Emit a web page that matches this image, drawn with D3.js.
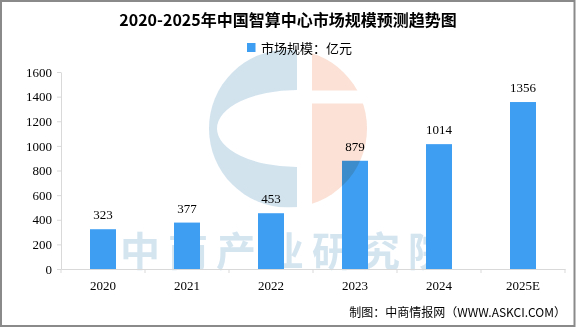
<!DOCTYPE html>
<html><head><meta charset="utf-8">
<script src="https://cdn.jsdelivr.net/npm/d3@7/dist/d3.min.js"></script>
<style>body{margin:0;background:#fff}svg{display:block}</style>
</head><body><svg id="c" width="576" height="327"></svg>
<script>
const categories = ["2020","2021","2022","2023","2024","2025E"];
const values = [323,377,453,879,1014,1356];
const yTicks = [0,200,400,600,800,1000,1200,1400,1600];
const title = "2020-2025年中国智算中心市场规模预测趋势图";
const legendLabel = "市场规模：亿元";
const source = "制图：中商情报网（WWW.ASKCI.COM）";
const watermark = "中商产业研究院";

const svg = d3.select("#c");
const W=576,H=327;
const font = "'Noto Sans CJK SC','DejaVu Sans',sans-serif";
const numFont = "'Liberation Serif','DejaVu Serif',serif";
svg.append("rect").attr("x",1).attr("y",1).attr("width",W-2.5).attr("height",H-2)
  .attr("fill","#fff").attr("stroke","#8a8a8a").attr("stroke-width",2);

const x = d3.scaleBand().domain(categories).range([61,565]);
const y = d3.scaleLinear().domain([0,1600]).range([269,72]);

// watermark text (behind bars)
svg.append("text").attr("x",288).attr("y",266).attr("text-anchor","middle")
  .attr("font-family",font).attr("font-weight","bold").attr("font-size",40).attr("letter-spacing",8)
  .attr("fill","#d5e5f0").text(watermark);

// axes
const ya = svg.append("g").attr("transform","translate(61,0)")
  .call(d3.axisLeft(y).tickValues(yTicks).tickFormat(d3.format("d")).tickSize(4).tickSizeOuter(0).tickPadding(5));
ya.select(".domain").attr("stroke","#d9d9d9");
ya.selectAll(".tick line").attr("stroke","#d9d9d9");
ya.selectAll("text").attr("font-family",numFont).attr("font-size",13).attr("fill","#000");

const xa = svg.append("g").attr("transform","translate(0,269)")
  .call(d3.axisBottom(x).tickSize(0).tickSizeOuter(0).tickPadding(12));
xa.select(".domain").attr("stroke","#d9d9d9");
xa.selectAll("text").attr("font-family",numFont).attr("font-size",13).attr("fill","#000");
const sepG = svg.append("g");
const bounds = categories.map(c=>x(c)).concat([x.range()[1]]);
bounds.forEach(b=>{
  sepG.append("line").attr("x1",b).attr("x2",b).attr("y1",269).attr("y2",273).attr("stroke","#d9d9d9");
});

// bars
const bw = 26;
svg.selectAll("rect.bar").data(values).enter().append("rect").attr("class","bar")
  .attr("x",(d,i)=>x(categories[i])+x.bandwidth()/2-bw/2)
  .attr("y",d=>y(d)).attr("width",bw).attr("height",d=>269-y(d))
  .attr("fill","#3d9ef2");

// logo watermark (on top, multiply)
const cx=288, cy=128.5, r=79;
const defs = svg.append("defs");
defs.append("clipPath").attr("id","rc").append("circle").attr("cx",cx).attr("cy",cy).attr("r",r);
const logo = svg.append("g").style("mix-blend-mode","multiply").attr("clip-path","url(#rc)");
const gapL = 297, gapR = 312;
logo.append("path").attr("fill-rule","evenodd").attr("fill","#d2e3ee")
  .attr("d",`M${cx-r},${cy-r} H${gapL} V${cy+r} H${cx-r} Z M${gapL},${cy-38.5} A80,38.5 0 0 0 ${gapL},${cy+38.5} Z`);
logo.append("rect").attr("x",gapR).attr("y",cy-r).attr("width",r).attr("height",(cy-38)-(cy-r)).attr("fill","#fbe1d6");
logo.append("rect").attr("x",gapR).attr("y",cy-25).attr("width",r).attr("height",r+25).attr("fill","#fbe1d6");

// value labels
svg.selectAll("text.lbl").data(values).enter().append("text").attr("class","lbl")
  .attr("x",(d,i)=>x(categories[i])+x.bandwidth()/2).attr("y",d=>y(d)-10)
  .attr("text-anchor","middle").attr("font-family",numFont)
  .attr("font-size",13).attr("fill","#000").text(d=>d);

// title & legend
svg.append("text").attr("x",288).attr("y",26).attr("text-anchor","middle")
  .attr("font-family",font).attr("font-weight","bold").attr("font-size",16).attr("fill","#000").text(title);
svg.append("rect").attr("x",247).attr("y",43).attr("width",8.5).attr("height",9).attr("fill","#3d9ef2");
svg.append("text").attr("x",261).attr("y",53).attr("font-family",font).attr("font-size",13).attr("fill","#000").text(legendLabel);

svg.append("text").attr("x",566).attr("y",317).attr("text-anchor","end")
  .attr("font-family",font).attr("font-size",12).attr("fill","#000").text(source);
</script></body></html>
